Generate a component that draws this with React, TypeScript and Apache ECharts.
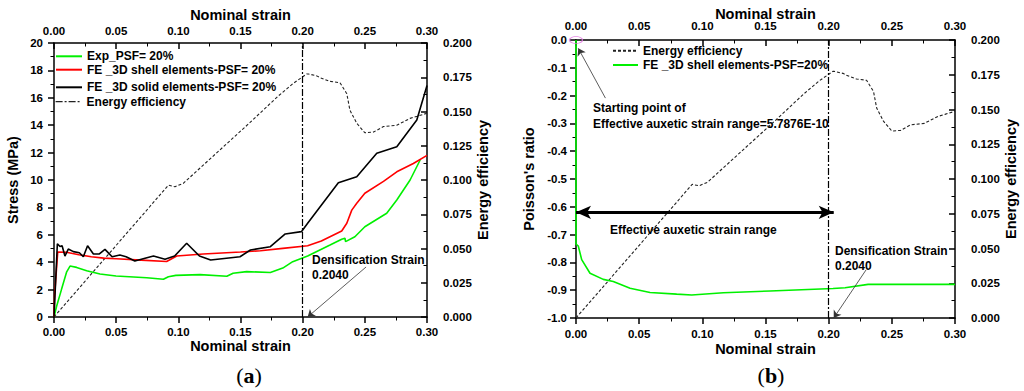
import React, { useEffect, useRef } from "react";
import * as echarts from "echarts";

// ---------- data ----------
const expStrain = [0, 0.0021, 0.006, 0.0102, 0.0129, 0.0182, 0.0263, 0.037, 0.0499, 0.0746, 0.088, 0.092, 0.098, 0.1175, 0.139, 0.144, 0.155, 0.174, 0.184, 0.192, 0.204, 0.222, 0.2314, 0.234, 0.2345, 0.242, 0.25, 0.2676, 0.2757, 0.2864, 0.2945];
const expStress = [0, 0.78, 2.0, 3.3, 3.72, 3.62, 3.38, 3.14, 2.99, 2.87, 2.75, 2.94, 3.04, 3.09, 2.97, 3.19, 3.31, 3.25, 3.57, 4.04, 4.45, 5.25, 5.67, 5.75, 5.5, 5.86, 6.59, 7.57, 8.54, 10.0, 11.46];

const shellStrain = [0, 0.0005, 0.003, 0.01, 0.02, 0.03, 0.04, 0.05, 0.07, 0.0906, 0.0987, 0.12, 0.15, 0.166, 0.184, 0.204, 0.215, 0.2314, 0.2355, 0.2395, 0.2435, 0.25, 0.265, 0.2757, 0.289, 0.3];
const shellStress = [0, 1.6, 4.75, 4.72, 4.55, 4.4, 4.3, 4.25, 4.15, 4.05, 4.45, 4.6, 4.75, 4.84, 5.01, 5.2, 5.55, 6.28, 6.84, 7.8, 8.3, 9.03, 9.9, 10.6, 11.2, 11.8];

const solidStrain = [0, 0.0027, 0.0048, 0.0065, 0.0088, 0.0115, 0.0156, 0.0204, 0.0236, 0.027, 0.0317, 0.0365, 0.041, 0.0467, 0.053, 0.058, 0.065, 0.08, 0.0893, 0.097, 0.1067, 0.117, 0.126, 0.1496, 0.158, 0.174, 0.186, 0.199, 0.204, 0.2287, 0.2435, 0.2596, 0.2757, 0.2918, 0.3];
const solidStress = [0, 5.35, 5.15, 5.2, 4.45, 4.96, 4.77, 4.69, 4.4, 5.2, 4.6, 4.6, 4.94, 4.4, 4.52, 4.4, 4.09, 4.45, 4.21, 4.45, 5.38, 4.45, 4.16, 4.4, 4.89, 5.13, 6.06, 6.23, 6.84, 9.8, 10.24, 11.95, 12.43, 14.38, 16.9];

const effStrain = [0, 0.092, 0.0973, 0.104, 0.1577, 0.18, 0.1925, 0.2033, 0.2046, 0.2113, 0.214, 0.222, 0.23, 0.2355, 0.238, 0.2435, 0.25, 0.257, 0.265, 0.2757, 0.2864, 0.292, 0.3];
const effValue = [0, 0.0962, 0.0951, 0.0976, 0.142, 0.161, 0.1706, 0.1774, 0.1774, 0.176, 0.1747, 0.172, 0.171, 0.163, 0.151, 0.1414, 0.1345, 0.135, 0.139, 0.14, 0.145, 0.1465, 0.1487];

const poisStrain = [0, 0, 0.0018, 0.0045, 0.0111, 0.0216, 0.0295, 0.0428, 0.0586, 0.0797, 0.0916, 0.1167, 0.1536, 0.2035, 0.213, 0.2312, 0.3];
const poisValue = [0, -0.734, -0.741, -0.79, -0.839, -0.861, -0.869, -0.893, -0.908, -0.914, -0.917, -0.909, -0.903, -0.894, -0.891, -0.879, -0.879];

const densificationStrain = 0.204;
const auxeticArrowY = -0.62;
const startPoint = [0, 0];

const strainMin = 0;
const strainMax = 0.3;
const strainStep = 0.05;

const legendNamesA = ["Exp_PSF= 20%", "FE _3D shell elements-PSF= 20%", "FE _3D solid elements-PSF= 20%", "Energy efficiency"];
const legendNamesB = ["Energy efficiency", "FE _3D shell elements-PSF=20%"];

const zip = (xs: number[], ys: number[]) => xs.map((x, i) => [x, ys[i]]);

const FONT = "Liberation Sans, Arial, sans-serif";
const BLACK = "#000";
const GREEN = "#00f000";
const RED = "#ff0000";
const DASHDOT = [7, 2, 2, 2];

function xAxis(gridIndex: number, position: "top" | "bottom", nameGap: number, labelMargin: number) {
  return {
    type: "value",
    gridIndex,
    position,
    min: strainMin,
    max: strainMax,
    interval: strainStep,
    name: "Nominal strain",
    nameLocation: "middle",
    nameGap,
    nameMoveOverlap: false,
    nameTextStyle: { color: BLACK, fontFamily: FONT, fontWeight: "bold", fontSize: 14.5 },
    axisLine: { show: true, onZero: false, lineStyle: { color: BLACK, width: 1.5 } },
    axisTick: { show: true, inside: position === "top", length: 6, lineStyle: { color: BLACK, width: 1.5 } },
    minorTick: { show: true, splitNumber: 2, length: 3.5, lineStyle: { color: BLACK, width: 1 } },
    splitLine: { show: false },
    minorSplitLine: { show: false },
    axisLabel: {
      color: BLACK, fontFamily: FONT, fontWeight: "bold", fontSize: 11.5, margin: labelMargin,
      formatter: (v: number) => v.toFixed(2),
    },
  };
}

function yAxis(gridIndex: number, position: "left" | "right", opts: any) {
  return {
    type: "value",
    gridIndex,
    position,
    nameLocation: "middle",
    nameMoveOverlap: false,
    nameTextStyle: { color: BLACK, fontFamily: FONT, fontWeight: "bold", fontSize: 14.5 },
    axisLine: { show: true, onZero: false, lineStyle: { color: BLACK, width: 1.5 } },
    axisTick: { show: true, inside: position === "right", length: 6, lineStyle: { color: BLACK, width: 1.5 } },
    minorTick: { show: true, splitNumber: 2, length: 3.5, lineStyle: { color: BLACK, width: 1 } },
    splitLine: { show: false },
    minorSplitLine: { show: false },
    ...opts,
    axisLabel: { color: BLACK, fontFamily: FONT, fontWeight: "bold", fontSize: 11.5, ...opts.axisLabel },
  };
}

const legendText = { fontFamily: FONT, fontWeight: "bold", fontSize: 12, color: BLACK };
function legend(item: any, left: number, centerY: number, itemWidth: number) {
  return {
    data: [item],
    left,
    top: centerY - 7,
    orient: "vertical",
    itemWidth,
    itemHeight: 14,
    padding: 0,
    itemGap: 0,
    selectedMode: false,
    itemStyle: { opacity: 0, borderWidth: 0 },
    textStyle: legendText,
  };
}

const textEl = (text: string, x: number, y: number) => ({
  type: "text",
  x,
  y,
  silent: true,
  style: { text, fill: BLACK, font: `bold 12px ${FONT}`, verticalAlign: "middle", align: "left" },
});

const panelLabel = (letter: string, x: number, y: number) => ({
  type: "text",
  x,
  y,
  silent: true,
  style: {
    text: `(${"{b|" + letter + "}"})`,
    fill: BLACK,
    font: "22px Liberation Serif, Times New Roman, serif",
    align: "center",
    verticalAlign: "middle",
    rich: { b: { fontWeight: "bold", fontSize: 22, fontFamily: "Liberation Serif, Times New Roman, serif", fill: BLACK } },
  },
});

const option: any = {
  animation: false,
  backgroundColor: "#fff",
  grid: [
    { left: 54, top: 43, width: 373, height: 274, outerBoundsMode: "none", containLabel: false },
    { left: 576, top: 40, width: 379, height: 278, outerBoundsMode: "none", containLabel: false },
  ],
  xAxis: [
    xAxis(0, "bottom", 21, 9),
    xAxis(0, "top", 21, 6),
    xAxis(1, "bottom", 23, 10),
    xAxis(1, "top", 19, 8),
  ],
  yAxis: [
    yAxis(0, "left", { min: 0, max: 20, interval: 2, name: "Stress (MPa)", nameGap: 34, axisLabel: { margin: 11 } }),
    yAxis(0, "right", { min: 0, max: 0.2, interval: 0.025, name: "Energy efficiency", nameGap: 48, axisLabel: { margin: 16, formatter: (v: number) => v.toFixed(3) } }),
    yAxis(1, "left", {
      min: -1, max: 0, interval: 0.1, name: "Poisson's ratio", nameGap: 40,
      axisLabel: { margin: 9, formatter: (v: number) => (Math.abs(v) < 1e-9 ? "0.0" : v.toFixed(1)) },
    }),
    yAxis(1, "right", { min: 0, max: 0.2, interval: 0.025, name: "Energy efficiency", nameGap: 48, axisLabel: { margin: 16, formatter: (v: number) => v.toFixed(3) } }),
  ],
  legend: [
    legend(legendNamesA[0], 55, 57.3, 26),
    legend(legendNamesA[1], 55, 70.7, 26),
    legend(legendNamesA[2], 55, 88.3, 26),
    legend({ name: legendNamesA[3], lineStyle: { type: DASHDOT, width: 1.2, color: "#222" } }, 55, 102.7, 26),
    legend(legendNamesB[0], 612, 51.7, 25),
    legend(legendNamesB[1], 612, 66, 25),
  ],
  series: [
    {
      name: legendNamesA[3],
      type: "line",
      xAxisIndex: 0,
      yAxisIndex: 1,
      data: zip(effStrain, effValue),
      symbol: "none",
      lineStyle: { color: "#222", width: 1.1, type: [3, 2] },
      itemStyle: { color: "#222" },
      z: 2,
    },
    {
      name: legendNamesA[0],
      type: "line",
      xAxisIndex: 0,
      yAxisIndex: 0,
      data: zip(expStrain, expStress),
      symbol: "none",
      lineStyle: { color: GREEN, width: 1.6 },
      itemStyle: { color: GREEN },
      z: 3,
    },
    {
      name: legendNamesA[1],
      type: "line",
      xAxisIndex: 0,
      yAxisIndex: 0,
      data: zip(shellStrain, shellStress),
      symbol: "none",
      lineStyle: { color: RED, width: 1.6 },
      itemStyle: { color: RED },
      z: 4,
      markLine: {
        silent: true,
        symbol: "none",
        label: { show: false },
        lineStyle: { color: BLACK, width: 1.2, type: DASHDOT },
        data: [
          { xAxis: densificationStrain },
          [
            { coord: [0.251, 3.65], symbol: "none", lineStyle: { color: "#333", width: 0.8, type: "solid" } },
            { coord: [densificationStrain, 0], symbol: "arrow", symbolSize: 7 },
          ],
        ],
      },
    },
    {
      name: legendNamesA[2],
      type: "line",
      xAxisIndex: 0,
      yAxisIndex: 0,
      data: zip(solidStrain, solidStress),
      symbol: "none",
      lineStyle: { color: BLACK, width: 1.6 },
      itemStyle: { color: BLACK },
      z: 5,
    },
    {
      name: legendNamesB[0],
      type: "line",
      xAxisIndex: 2,
      yAxisIndex: 3,
      data: zip(effStrain, effValue),
      symbol: "none",
      lineStyle: { color: "#222", width: 1.1, type: [3, 2] },
      itemStyle: { color: "#222" },
      z: 2,
    },
    {
      name: legendNamesB[1],
      type: "line",
      xAxisIndex: 2,
      yAxisIndex: 2,
      data: zip(poisStrain, poisValue),
      symbol: "none",
      lineStyle: { color: GREEN, width: 1.6 },
      itemStyle: { color: GREEN },
      z: 3,
    },
    {
      type: "scatter",
      xAxisIndex: 2,
      yAxisIndex: 2,
      data: [startPoint],
      symbol: "circle",
      symbolSize: [13, 7],
      itemStyle: { color: "rgba(0,0,0,0)", borderColor: "#e070e0", borderWidth: 1 },
      clip: false,
      silent: true,
      z: 6,
      markLine: {
        silent: true,
        symbol: "none",
        label: { show: false },
        lineStyle: { color: BLACK, width: 1.2, type: DASHDOT },
        data: [
          { xAxis: densificationStrain },
          [
            { coord: [0, auxeticArrowY], symbol: "arrow", symbolSize: [10, 15], lineStyle: { color: BLACK, width: 3, type: "solid" } },
            { coord: [densificationStrain, auxeticArrowY], symbol: "arrow", symbolSize: [10, 15] },
          ],
          [
            { coord: [0.0233, -0.209], symbol: "none", lineStyle: { color: "#333", width: 0.8, type: "solid" } },
            { coord: [0.0018, -0.03], symbol: "arrow", symbolSize: 7 },
          ],
          [
            { coord: [0.2296, -0.827], symbol: "none", lineStyle: { color: "#333", width: 0.8, type: "solid" } },
            { coord: [densificationStrain, -1.0], symbol: "arrow", symbolSize: 7 },
          ],
        ],
      },
    },
  ],
  graphic: [
    textEl("Densification Strain", 312, 260),
    textEl("0.2040", 312, 275),
    textEl("Starting point of", 593, 108),
    textEl("Effective auxetic strain range=5.7876E-10", 593, 124),
    textEl("Effective auxetic strain range", 610, 230),
    textEl("Densification Strain", 835, 251),
    textEl("0.2040", 835, 266),
    panelLabel("a", 249, 375),
    panelLabel("b", 771, 375),
  ],
};

export default function App() {
  const ref = useRef<HTMLDivElement>(null);
  useEffect(() => {
    if (!ref.current) return;
    const chart = echarts.init(ref.current, undefined, { renderer: "svg" });
    chart.setOption(option);
    return () => chart.dispose();
  }, []);
  return (
    <div
      ref={ref}
      style={{ position: "absolute", left: 0, top: 0, width: 1024, height: 391, background: "#fff" }}
    />
  );
}
